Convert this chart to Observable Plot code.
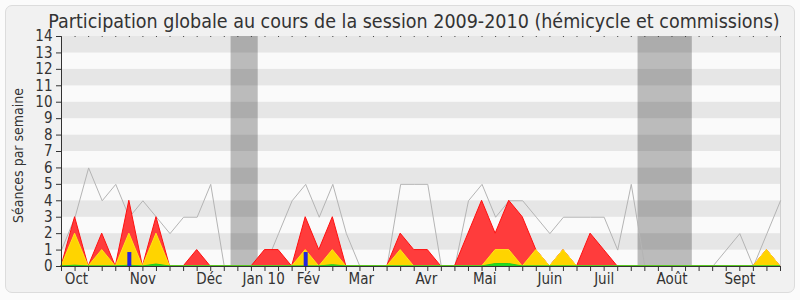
<!DOCTYPE html>
<html>
<head>
<meta charset="utf-8">
<script src="https://cdn.jsdelivr.net/npm/d3@7"></script>
<script src="https://cdn.jsdelivr.net/npm/@observablehq/plot@0.6"></script>
<style>
  html, body { margin: 0; padding: 0; background: #fbfbfb; }
  #wrap { position: relative; width: 800px; height: 300px; }
  #bg { position: absolute; left: 5px; top: 5px; width: 790px; height: 288px; box-sizing: border-box;
        border: 1px solid #dcdcdc; border-radius: 7px; background: #f1f1f1; }
  #chart { position: absolute; left: 0; top: 0; }
</style>
</head>
<body>
<div id="wrap"><div id="bg"></div><div id="chart"></div></div>
<script>
const title = "Participation globale au cours de la session 2009-2010 (hémicycle et commissions)";
const yLabel = "Séances par semaine";

// week index 0..53
const weeks = d3.range(54);
// grey line: séances per week
const seances = [1,3,6,4,5,3,4,3,2,3,3,5,0,0,0,0,2,4,5,3,5,2,0,0,0,5,5,5,0,0,4,5,3,4,4,3,2,3,3,3,3,1,5,0,0,0,0,0,0,1,2,0,2,4];
// red area: présences
const presences = [0,3,0,2,0,4,0,3,0,0,1,0,0,0,0,1,1,0,3,1,3,0,0,0,0,2,1,1,0,0,2,4,2,4,3,1,0,1,0,2,1,0,0,0,0,0,0,0,0,0,0,0,1,0];
// yellow area: participations
const participations = [0,2,0,1,0,2,0,2,0,0,0,0,0,0,0,0,0,0,1,0,1,0,0,0,0,1,0,0,0,0,0,0,1,1,0,1,0,1,0,0,0,0,0,0,0,0,0,0,0,0,0,0,1,0];
// green area: small values
const interventions = [0,0.05,0,0,0,0.05,0,0.12,0,0,0,0,0,0,0,0,0,0,0,0,0.08,0,0,0,0,0,0,0,0,0,0,0,0.15,0.15,0,0,0,0,0,0,0,0,0,0,0,0,0,0,0,0,0,0,0,0];
// blue bars: questions
const questionWeeks = [5, 18];
const questionValues = [0.85, 0.85];
// vacation periods (weeks)
const vacStart = [12.5, 42.5];
const vacEnd = [14.5, 46.5];
// y ticks and stripes
const yTicks = d3.range(0, 15);
const stripeLow = d3.range(0, 14);
// month labels
const monthNames = ["Oct","Nov","Déc","Jan 10","Fév","Mar","Avr","Mai","Juin","Juil","Août","Sept"];
const monthPos = [1.1, 6.0, 10.9, 14.9, 18.2, 22.1, 26.9, 31.2, 36.0, 40.0, 45.0, 50.0];

const data = weeks.map((w, i) => ({
  week: w, seances: seances[i], presences: presences[i],
  participations: participations[i], interventions: interventions[i]
}));
const questions = questionWeeks.map((w, i) => ({week: w, value: questionValues[i]}));
const vacances = vacStart.map((s, i) => ({x1: s, x2: vacEnd[i]}));
const stripes = stripeLow.map(v => ({y1: v, y2: v + 1, odd: v % 2 === 1}));
const months = monthNames.map((n, i) => ({name: n, pos: monthPos[i]}));

const font = "'DejaVu Sans Condensed', 'DejaVu Sans', sans-serif";

const chart = Plot.plot({
  width: 800,
  height: 300,
  marginLeft: 61,
  marginRight: 20,
  marginTop: 36,
  marginBottom: 34,
  style: {fontFamily: font, background: "transparent", color: "#333", overflow: "visible"},
  x: {domain: [0, 53]},
  y: {domain: [0, 14]},
  marks: [
    Plot.rect(stripes, {y1: "y1", y2: "y2", fill: d => d.odd ? "#e6e6e6" : "#fafafa"}),
    Plot.rect(vacances, {x1: "x1", x2: "x2", fill: "#000", fillOpacity: 0.25}),
    Plot.ruleX([53], {stroke: "#d0d0d0"}),
    Plot.line(data, {x: "week", y: "seances", stroke: "#b4b4b4", strokeWidth: 1}),
    Plot.areaY(data, {x: "week", y: "presences", fill: "#ff3c3c", stroke: "#ff1010", strokeWidth: 1}),
    Plot.areaY(data, {x: "week", y: "participations", fill: "#ffd400", stroke: "#ffe418", strokeWidth: 1}),
    Plot.areaY(data, {x: "week", y: "interventions", fill: "#22dd22", stroke: "#22cc22", strokeWidth: 1}),
    Plot.ruleX(questions, {x: "week", y1: 0, y2: "value", stroke: "#2424dd", strokeWidth: 4}),
    Plot.ruleY([0], {stroke: "#333"}),
    Plot.ruleX([0], {stroke: "#333"}),
    Plot.axisY(yTicks, {tickSize: 5, tickPadding: 4, fontSize: 15, label: null, stroke: "#333"}),
    Plot.axisX(weeks, {anchor: "bottom", tickSize: 5, tickFormat: () => "", label: null, stroke: "#333"}),
    Plot.axisX(weeks, {anchor: "top", tickSize: 1, tickPadding: 0, tickFormat: () => "", label: null, stroke: "#444"}),
    Plot.text(months, {x: "pos", text: "name", frameAnchor: "bottom", dy: 12.5, lineAnchor: "middle", fontSize: 15, fill: "#333"}),
    Plot.text([title], {frameAnchor: "top", dx: -7, dy: -9, lineAnchor: "bottom", fontSize: 19.5, fill: "#333"}),
    Plot.text([yLabel], {frameAnchor: "left", textAnchor: "middle", rotate: -90, dx: -43, dy: 4, fontSize: 14, fill: "#333"})
  ]
});
document.getElementById("chart").appendChild(chart);
</script>
</body>
</html>
